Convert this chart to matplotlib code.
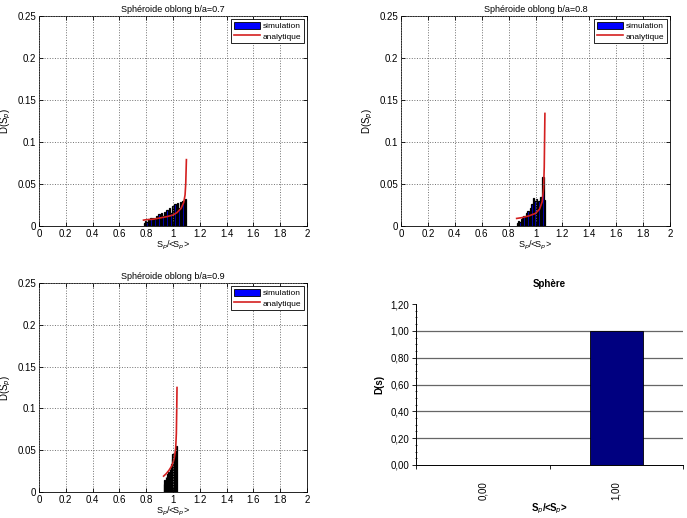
import numpy as np
import matplotlib
matplotlib.use('Agg')
import matplotlib.pyplot as plt
from matplotlib.patches import Patch
from matplotlib.lines import Line2D

plt.rcParams['font.family'] = ['Liberation Sans', 'DejaVu Sans']
plt.rcParams['font.size'] = 7

# --- b/a = 0.7 ---
h07_x = np.round(np.arange(0.785, 1.10, 0.01), 3)
h07_y = [0.004, 0.006, 0.005, 0.008, 0.007, 0.009, 0.006, 0.010, 0.008, 0.012,
         0.009, 0.014, 0.011, 0.015, 0.012, 0.017, 0.013, 0.019, 0.014, 0.021,
         0.016, 0.024, 0.018, 0.026, 0.020, 0.027, 0.022, 0.029, 0.025, 0.030,
         0.028, 0.032]
c07_x = [0.78, 0.80, 0.85, 0.90, 0.95, 1.00, 1.03, 1.06, 1.08, 1.09, 1.095, 1.10]
c07_y = [0.007, 0.0075, 0.008, 0.0095, 0.011, 0.013, 0.016, 0.021, 0.028, 0.037, 0.05, 0.079]

# --- b/a = 0.8 ---
h08_x = np.round(np.arange(0.865, 1.07, 0.01), 3)
h08_y = [0.004, 0.006, 0.005, 0.008, 0.009, 0.012, 0.011, 0.015, 0.018, 0.016,
         0.022, 0.026, 0.033, 0.030, 0.032, 0.027, 0.030, 0.034, 0.035, 0.058,
         0.031]
c08_x = [0.86, 0.90, 0.95, 1.00, 1.03, 1.05, 1.06, 1.065, 1.07]
c08_y = [0.009, 0.010, 0.012, 0.015, 0.020, 0.029, 0.045, 0.07, 0.134]

# --- b/a = 0.9 ---
h09_x = np.round(np.arange(0.9325, 1.03, 0.005), 4)
h09_y = [0.010, 0.014, 0.012, 0.018, 0.016, 0.021, 0.019, 0.024, 0.022, 0.028,
         0.026, 0.033, 0.040, 0.046, 0.038, 0.044, 0.041, 0.048, 0.052, 0.055]
c09_x = [0.93, 0.95, 0.97, 0.99, 1.00, 1.01, 1.02, 1.025, 1.028, 1.03]
c09_y = [0.019, 0.022, 0.026, 0.031, 0.035, 0.041, 0.052, 0.07, 0.10, 0.125]

# --- sphere ---
sph_cat = ['0,00', '1,00']
sph_val = [0.0, 1.0]

panels = [
    ('Sphéroide oblong b/a=0.7', h07_x, h07_y, 0.01, c07_x, c07_y, [39, 16, 307, 226]),
    ('Sphéroide oblong b/a=0.8', h08_x, h08_y, 0.01, c08_x, c08_y, [401, 16, 670, 226]),
    ('Sphéroide oblong b/a=0.9', h09_x, h09_y, 0.005, c09_x, c09_y, [39, 283, 307, 492]),
]

W, H = 687, 518
fig = plt.figure(figsize=(W / 100, H / 100), dpi=100)

def pix_axes(l, t, r, b):
    return fig.add_axes([l / W, 1 - b / H, (r - l) / W, (b - t) / H])

for title, hx, hy, bw, cx, cy, box in panels:
    ax = pix_axes(*box)
    ax.bar(hx, hy, width=bw, color='blue', edgecolor='black', linewidth=0.9)
    ax.plot(cx, cy, color='#d42020', linewidth=1.2)
    ax.set_xlim(0, 2)
    ax.set_ylim(0, 0.25)
    ax.set_xticks(np.arange(0, 2.01, 0.2))
    ax.set_xticklabels(['0', '0.2', '0.4', '0.6', '0.8', '1', '1.2', '1.4', '1.6', '1.8', '2'])
    ax.set_yticks([0, 0.05, 0.1, 0.15, 0.2, 0.25])
    ax.set_yticklabels(['0', '0.05', '0.1', '0.15', '0.2', '0.25'])
    ax.tick_params(direction='in', length=3, width=0.6, top=True, right=True, pad=2)
    ax.grid(True, linestyle=':', color='#707070', linewidth=0.7)
    ax.set_axisbelow(False)
    for s in ax.spines.values():
        s.set_linewidth(0.6)
    ax.set_title(title, fontsize=6.5, pad=3)
    ax.set_xlabel('S$_p$/<S$_p$>', fontsize=6.5, labelpad=0)
    ax.set_ylabel('D(S$_p$)', labelpad=3)
    handles = [Patch(facecolor='blue', edgecolor='black', linewidth=0.6),
               Line2D([0], [0], color='#d42020', linewidth=1.2)]
    leg = ax.legend(handles, ['simulation', 'analytique'], loc='upper right',
                    fontsize=6, fancybox=False, framealpha=1, edgecolor='black',
                    handlelength=3.2, handleheight=1.0, borderpad=0.3,
                    labelspacing=0.2, handletextpad=0.3, borderaxespad=0.4)
    leg.get_frame().set_linewidth(0.6)

# Excel style panel
ax = pix_axes(416, 304, 683, 465)
pos = np.arange(len(sph_cat))
ax.bar(pos, sph_val, width=0.4, color='#000080', edgecolor='black', linewidth=0.6, zorder=3)
ax.set_xlim(-0.5, 1.5)
ax.set_ylim(0, 1.2)
yt = np.arange(0, 1.21, 0.2)
ax.set_yticks(yt)
ax.set_yticklabels([('%.2f' % v).replace('.', ',') for v in yt])
ax.hlines(yt[1:-1], -0.5, 1.5, color='#666666', linewidth=0.9, zorder=1)
ax.set_xticks(pos)
ax.set_xticklabels(sph_cat, rotation=90)
ax.set_xticks([-0.5, 0.5, 1.5], minor=True)
ax.tick_params(axis='x', which='major', length=0, pad=12)
ax.tick_params(axis='x', which='minor', length=3, direction='out', width=0.6)
ax.set_yticks(np.arange(0, 1.21, 0.05), minor=True)
ax.tick_params(axis='y', which='minor', length=2, direction='inout', width=0.5)
ax.tick_params(axis='y', which='major', length=3, direction='out', width=0.6, pad=2)
ax.spines['top'].set_visible(False)
ax.spines['right'].set_visible(False)
for s in ['left', 'bottom']:
    ax.spines[s].set_linewidth(0.7)
ax.set_title('Sphère', fontsize=7, fontweight='bold', pad=12)
ax.set_xlabel('S$_p$/<S$_p$>', fontweight='bold', labelpad=1)
ax.set_ylabel('D(s)', fontweight='bold', labelpad=4)

fig.savefig('out.png', dpi=100)
